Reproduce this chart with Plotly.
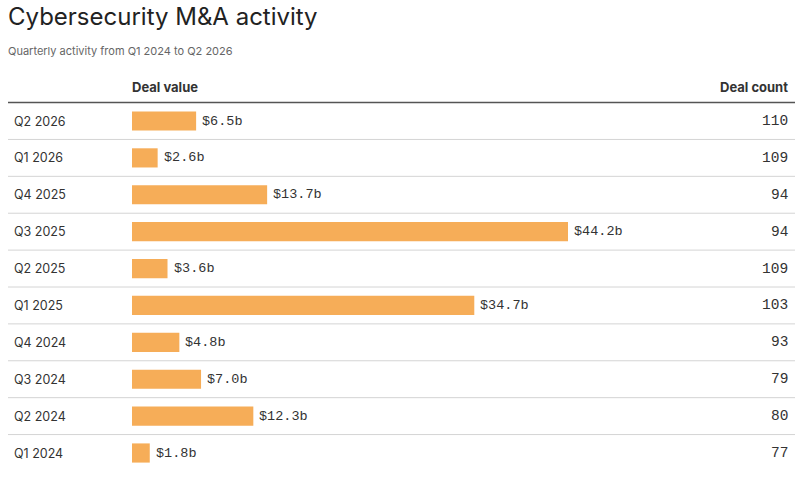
import plotly.graph_objects as go

quarters = ["Q1 2024", "Q2 2024", "Q3 2024", "Q4 2024", "Q1 2025",
            "Q2 2025", "Q3 2025", "Q4 2025", "Q1 2026", "Q2 2026"]
deal_value = [1.8, 12.3, 7.0, 4.8, 34.7, 3.6, 44.2, 13.7, 2.6, 6.5]
deal_count = [77, 80, 79, 93, 103, 109, 94, 94, 109, 110]

W, H = 804, 478
BAR_COLOR = "#F6AD58"
MONO = "Liberation Mono, DejaVu Sans Mono, monospace"
SANS = "Inter, Noto Sans, sans-serif"

ypos = list(range(len(quarters)))
row_px = 36.89
top_row_px = 121
bottom_row_px = 453
y_top = (len(quarters) - 1) + top_row_px / row_px
y_bottom = 0 - (H - bottom_row_px) / row_px

px_per_b = (568 - 132) / 44.2
x_left = 132
x_max = (W - x_left) / px_per_b

fig = go.Figure()
fig.add_trace(go.Bar(
    y=ypos, x=deal_value, orientation="h",
    marker=dict(color=BAR_COLOR, line=dict(width=0)),
    width=0.52,
    hoverinfo="skip",
))

shapes = []
shapes.append(dict(type="line", xref="paper", yref="y", x0=8 / W, x1=795 / W,
                   y0=len(quarters) - 0.5, y1=len(quarters) - 0.5,
                   line=dict(color="#555555", width=1.5)))
for i in range(1, len(quarters)):
    shapes.append(dict(type="line", xref="paper", yref="y", x0=8 / W, x1=795 / W,
                       y0=i - 0.5, y1=i - 0.5, line=dict(color="#d4d4d4", width=1),
                       layer="below"))

annotations = []
for i, q in enumerate(quarters):
    annotations.append(dict(xref="paper", yref="y", x=12 / W, y=i, text=q,
                            showarrow=False, xanchor="left", yanchor="middle",
                            font=dict(family=SANS, size=12.5, color="#333333")))
    annotations.append(dict(xref="paper", yref="y", x=790 / W, y=i, text=str(deal_count[i]),
                            showarrow=False, xanchor="right", yanchor="middle",
                            font=dict(family=MONO, size=14.5, color="#333333")))
    annotations.append(dict(xref="x", yref="y", x=deal_value[i], y=i,
                            text=f"${deal_value[i]:.1f}b", xshift=4,
                            showarrow=False, xanchor="left", yanchor="middle",
                            font=dict(family=MONO, size=13.5, color="#333333")))

annotations += [
    dict(xref="paper", yref="paper", x=6 / W, y=1 - 17 / H, text="Cybersecurity M&A activity",
         showarrow=False, xanchor="left", yanchor="middle",
         font=dict(family=SANS, size=24, color="#222222")),
    dict(xref="paper", yref="paper", x=6 / W, y=1 - 51 / H,
         text="Quarterly activity from Q1 2024 to Q2 2026",
         showarrow=False, xanchor="left", yanchor="middle",
         font=dict(family=SANS, size=11, color="#666666")),
    dict(xref="paper", yref="paper", x=130 / W, y=1 - 87 / H, text="<b>Deal value</b>",
         showarrow=False, xanchor="left", yanchor="middle",
         font=dict(family=SANS, size=13, color="#333333")),
    dict(xref="paper", yref="paper", x=790 / W, y=1 - 87 / H, text="<b>Deal count</b>",
         showarrow=False, xanchor="right", yanchor="middle",
         font=dict(family=SANS, size=13, color="#333333")),
]

fig.update_layout(
    width=W, height=H,
    margin=dict(l=0, r=0, t=0, b=0),
    paper_bgcolor="white", plot_bgcolor="white",
    showlegend=False,
    xaxis=dict(domain=[x_left / W, 1], range=[0, x_max], visible=False, fixedrange=True),
    yaxis=dict(domain=[0, 1], range=[y_bottom, y_top], visible=False, fixedrange=True),
    shapes=shapes,
    annotations=annotations,
)

fig.write_html("out.html")
